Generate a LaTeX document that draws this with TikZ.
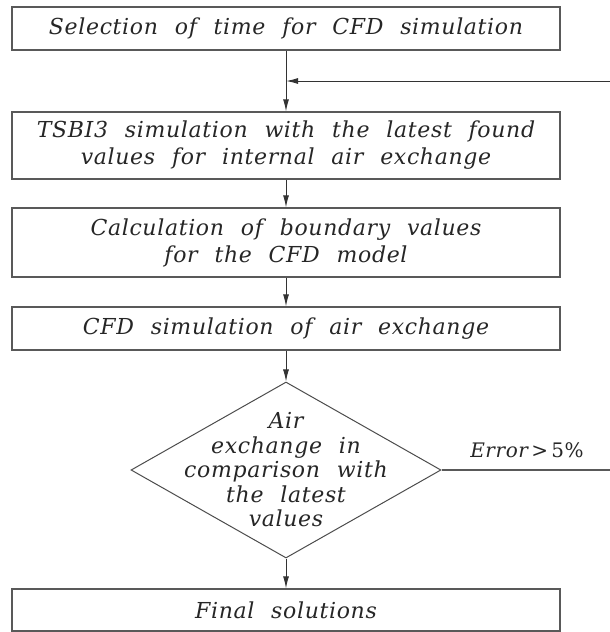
\documentclass[tikz,border=0pt]{standalone}
\usepackage{fontspec}
\setmainfont{DejaVu Serif}[LetterSpace=3,WordSpace=2.2]
\usetikzlibrary{shapes.geometric,arrows.meta}
\begin{document}
\begin{tikzpicture}[x=1pt,y=-1pt,
  font=\fontsize{22}{27}\selectfont\itshape,
  box/.style={draw=black!65,line width=1.3pt,minimum width=548pt,inner sep=0pt,align=center,text=black!85},
  decision/.style={draw=black!70,line width=1pt,diamond,minimum width=310pt,minimum height=176pt,inner sep=0pt},
  arr/.style={draw=black!80,line width=1pt,-{Latex[length=12pt,width=6pt]}},
  ln/.style={draw=black!65,line width=1.2pt}]
\useasboundingbox (0,0) rectangle (610,632);
\node[box,minimum height=43pt] (b1) at (286,28.5) {Selection of time for CFD simulation};
\node[box,minimum height=67pt] (b2) at (286,145.5) {TSBI3 simulation with the latest found\\values for internal air exchange};
\node[box,minimum height=69pt] (b3) at (286,242.5) {Calculation of boundary values\\for the CFD model};
\node[box,minimum height=43pt] (b4) at (286,328.5) {CFD simulation of air exchange};
\node[decision] (d) at (286,470) {};
\node[align=center,text=black!85,font=\fontsize{22}{24.5}\selectfont\itshape] (dt) at (286,470) {Air\\exchange in\\comparison with\\the latest\\values};
\node[box,minimum height=42pt] (b5) at (286,610) {Final solutions};
\coordinate (fbR) at (612,81);
\coordinate (fbJ) at (286,81);
\coordinate (erR) at (612,470);
\draw[arr] (b1) -- (b2);
\draw[arr] (fbR) -- (fbJ);
\draw[arr] (b2) -- (b3);
\draw[arr] (b3) -- (b4);
\draw[arr] (b4) -- (d);
\draw[arr] (d) -- (b5);
\draw[ln] (d.east) -- (erR);
\node[text=black!85,font=\fontsize{20}{24}\selectfont] (err) at (527,450) {{\itshape Error}\,>\,5\%};
\end{tikzpicture}
\end{document}
